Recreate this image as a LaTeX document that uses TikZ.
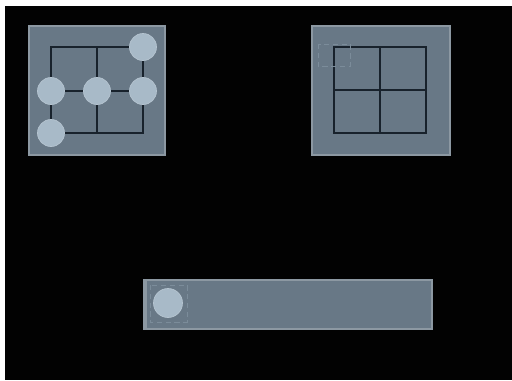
\documentclass[tikz,border=0pt]{standalone}
\usepackage{tikz}
\usetikzlibrary{positioning}
\definecolor{bgblack}{RGB}{2,2,2}
\definecolor{panelgray}{RGB}{104,120,134}
\definecolor{paneledge}{RGB}{140,152,162}
\definecolor{gridline}{RGB}{24,34,44}
\definecolor{discblue}{RGB}{168,186,200}

\tikzset{
  panel/.style={fill=panelgray, draw=paneledge, line width=0.6pt},
  gridl/.style={draw=gridline, line width=0.9pt},
  disc/.style={circle, fill=discblue, draw=discblue!85!white, minimum size=0.54cm, inner sep=0pt},
  faintbox/.style={draw=panelgray!70!discblue, densely dashed, line width=0.3pt},
}

\begin{document}
\begin{tikzpicture}[x=0.02cm, y=-0.02cm]

% Page and background
\useasboundingbox (0,0) rectangle (512,380);
\fill[white] (0,0) rectangle (512,380);
\fill[bgblack] (5,6) rectangle (512,380);

% Left panel
\draw[panel] (29,26) rectangle (165,155);
\draw[gridl] (51,47) rectangle (143,133);
\draw[gridl] (97,47) -- (97,133);
\draw[gridl] (51,91) -- (143,91);

\node[disc] (tr) at (143,47) {};
\node[disc] (ml) at (51,91) {};
\node[disc] (mc) at (97,91) {};
\node[disc] (mr) at (143,91) {};
\node[disc] (bl) at (51,133) {};

% Right panel
\draw[panel] (312,26) rectangle (450,155);
\draw[gridl] (334,47) rectangle (426,133);
\draw[gridl] (380,47) -- (380,133);
\draw[gridl] (334,90) -- (426,90);
\draw[faintbox] (318,44) rectangle (350,66);

% Bottom bar
\draw[panel] (144,280) rectangle (432,329);
\draw[paneledge, line width=1pt] (146,281) -- (146,328);
\draw[faintbox] (150,285) rectangle (187,322);
\node[disc, minimum size=0.58cm] (slot) at (168,303) {};

\end{tikzpicture}
\end{document}
